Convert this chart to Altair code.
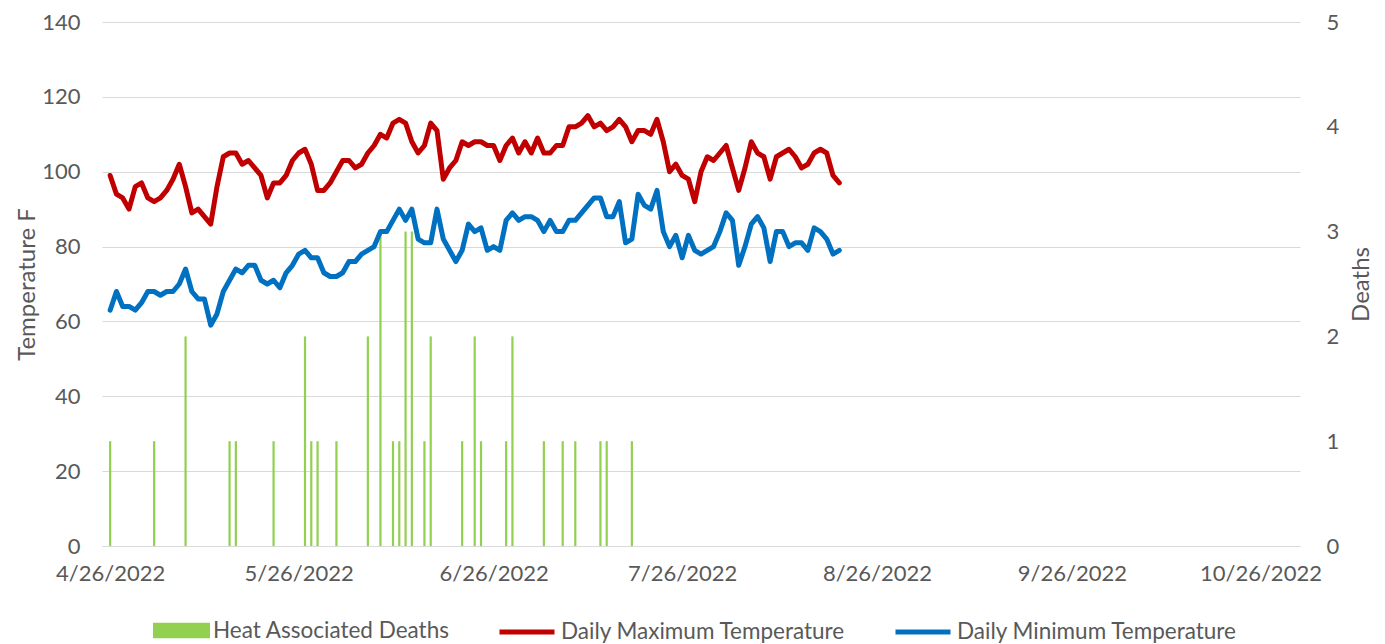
import altair as alt
import pandas as pd

# ---------------- data ----------------
start_date = "2022-04-26"
axis_end_date = "2022-10-31"
tick_dates = ["2022-04-26", "2022-05-26", "2022-06-26", "2022-07-26",
              "2022-08-26", "2022-09-26", "2022-10-26"]

max_temp = [99, 94, 93, 90, 96, 97, 93, 92, 93, 95,
            98, 102, 96, 89, 90, 88, 86, 96, 104, 105,
            105, 102, 103, 101, 99, 93, 97, 97, 99, 103,
            105, 106, 102, 95, 95, 97, 100, 103, 103, 101,
            102, 105, 107, 110, 109, 113, 114, 113, 108, 105,
            107, 113, 111, 98, 101, 103, 108, 107, 108, 108,
            107, 107, 103, 107, 109, 105, 108, 105, 109, 105,
            105, 107, 107, 112, 112, 113, 115, 112, 113, 111,
            112, 114, 112, 108, 111, 111, 110, 114, 108, 100,
            102, 99, 98, 92, 100, 104, 103, 105, 107, 101,
            95, 101, 108, 105, 104, 98, 104, 105, 106, 104,
            101, 102, 105, 106, 105, 99, 97]

min_temp = [63, 68, 64, 64, 63, 65, 68, 68, 67, 68,
            68, 70, 74, 68, 66, 66, 59, 62, 68, 71,
            74, 73, 75, 75, 71, 70, 71, 69, 73, 75,
            78, 79, 77, 77, 73, 72, 72, 73, 76, 76,
            78, 79, 80, 84, 84, 87, 90, 87, 90, 82,
            81, 81, 90, 82, 79, 76, 79, 86, 84, 85,
            79, 80, 79, 87, 89, 87, 88, 88, 87, 84,
            87, 84, 84, 87, 87, 89, 91, 93, 93, 88,
            88, 92, 81, 82, 94, 91, 90, 95, 84, 80,
            83, 77, 83, 79, 78, 79, 80, 84, 89, 87,
            75, 80, 86, 88, 85, 76, 84, 84, 80, 81,
            81, 79, 85, 84, 82, 78, 79]

death_dates = ["2022-04-26", "2022-05-03", "2022-05-08", "2022-05-15", "2022-05-16",
               "2022-05-22", "2022-05-27", "2022-05-28", "2022-05-29", "2022-06-01",
               "2022-06-06", "2022-06-08", "2022-06-10", "2022-06-11", "2022-06-12",
               "2022-06-13", "2022-06-15", "2022-06-16", "2022-06-21", "2022-06-23",
               "2022-06-24", "2022-06-28", "2022-06-29", "2022-07-04", "2022-07-07",
               "2022-07-09", "2022-07-13", "2022-07-14", "2022-07-18"]
death_counts = [1, 1, 2, 1, 1,
                1, 2, 1, 1, 1,
                2, 3, 1, 1, 3,
                3, 1, 2, 1, 2,
                1, 1, 2, 1, 1,
                1, 1, 1, 1]

# ---------------- frames ----------------
start = pd.Timestamp(start_date)
end_day = (pd.Timestamp(axis_end_date) - start).days
tick_vals = [(pd.Timestamp(t) - start).days for t in tick_dates]

max_df = pd.DataFrame({"day": list(range(len(max_temp))), "temp": max_temp,
                       "series": "Daily Maximum Temperature"})
min_df = pd.DataFrame({"day": list(range(len(min_temp))), "temp": min_temp,
                       "series": "Daily Minimum Temperature"})
death_df = pd.DataFrame({"day": [(pd.Timestamp(d) - start).days for d in death_dates],
                         "deaths": death_counts, "series": "Heat Associated Deaths"})

FONT = "Lato"
GRAY = "#595959"
GRID = "#D9D9D9"
TICK_FS = 22
LEG_FS = 22.5
TITLE_FS = 24

label_expr = (f"timeFormat(datetime({start.year}, {start.month - 1}, {start.day} + datum.value), "
              "'%-m/%-d/%Y')")

x_enc = alt.X("day:Q",
              scale=alt.Scale(domain=[-0.5, end_day + 0.5], nice=False, zero=False),
              axis=alt.Axis(values=tick_vals, labelExpr=label_expr, title=None, grid=False,
                            ticks=False, domain=True, domainColor=GRID, domainWidth=1,
                            labelPadding=17, labelFontSize=TICK_FS, labelColor=GRAY,
                            labelFont=FONT, labelFlush=False, labelOverlap=False))

temp_axis = alt.Axis(values=list(range(0, 141, 20)), title="Temperature F", orient="left",
                     grid=True, gridColor=GRID, gridWidth=1, domain=False, ticks=False,
                     labelPadding=22, labelFontSize=TICK_FS, labelColor=GRAY, labelFont=FONT,
                     titleFontSize=TITLE_FS, titleColor=GRAY, titleFont=FONT,
                     titleFontWeight="normal", titlePadding=2)

line_legend_common = dict(orient="none", title=None, symbolType="stroke", symbolSize=3025,
                          symbolStrokeWidth=5, labelFontSize=LEG_FS, labelColor=GRAY,
                          labelFont=FONT, labelOffset=4, labelLimit=500)

bars = alt.Chart(death_df).mark_bar(orient="vertical", size=2.2).encode(
    x=x_enc,
    y=alt.Y("deaths:Q", scale=alt.Scale(domain=[0, 5], nice=False),
            axis=alt.Axis(values=[0, 1, 2, 3, 4, 5], title="Deaths", orient="right",
                          grid=False, domain=False, ticks=False, labelPadding=26,
                          labelFontSize=TICK_FS, labelColor=GRAY, labelFont=FONT,
                          titleFontSize=TITLE_FS, titleColor=GRAY, titleFont=FONT,
                          titleFontWeight="normal", titleAngle=270, titlePadding=35)),
    fill=alt.Fill("series:N",
                  scale=alt.Scale(domain=["Heat Associated Deaths"], range=["#92D050"]),
                  legend=alt.Legend(orient="none", legendX=51, legendY=580, title=None,
                                    symbolType="M-1,-0.27H1V0.27H-1Z", symbolSize=3249,
                                    symbolStrokeWidth=0, labelFontSize=LEG_FS,
                                    labelColor=GRAY, labelFont=FONT, labelOffset=3,
                                    labelLimit=500)),
)

max_line = alt.Chart(max_df).mark_line(strokeWidth=5, strokeCap="round",
                                       strokeJoin="round").encode(
    x=x_enc,
    y=alt.Y("temp:Q", scale=alt.Scale(domain=[0, 140], nice=False), axis=temp_axis),
    stroke=alt.Stroke("series:N",
                      scale=alt.Scale(domain=["Daily Maximum Temperature"], range=["#C00000"]),
                      legend=alt.Legend(legendX=395, legendY=580, **line_legend_common)),
)

min_line = alt.Chart(min_df).mark_line(strokeWidth=5, strokeCap="round",
                                       strokeJoin="round").encode(
    x=x_enc,
    y=alt.Y("temp:Q", scale=alt.Scale(domain=[0, 140], nice=False), axis=temp_axis),
    color=alt.Color("series:N",
                    scale=alt.Scale(domain=["Daily Minimum Temperature"], range=["#0070C0"]),
                    legend=alt.Legend(legendX=791, legendY=580, **line_legend_common)),
)

lines = alt.layer(max_line, min_line)

chart = alt.layer(bars, lines).resolve_scale(y="independent").properties(
    width=1198, height=524,
    autosize=alt.AutoSizeParams(type="none"),
    padding={"left": 94, "top": 14, "right": 75, "bottom": 98},
    background="white",
).configure_view(strokeWidth=0)

chart.save("out.html", embed_options={"renderer": "svg", "actions": False})
